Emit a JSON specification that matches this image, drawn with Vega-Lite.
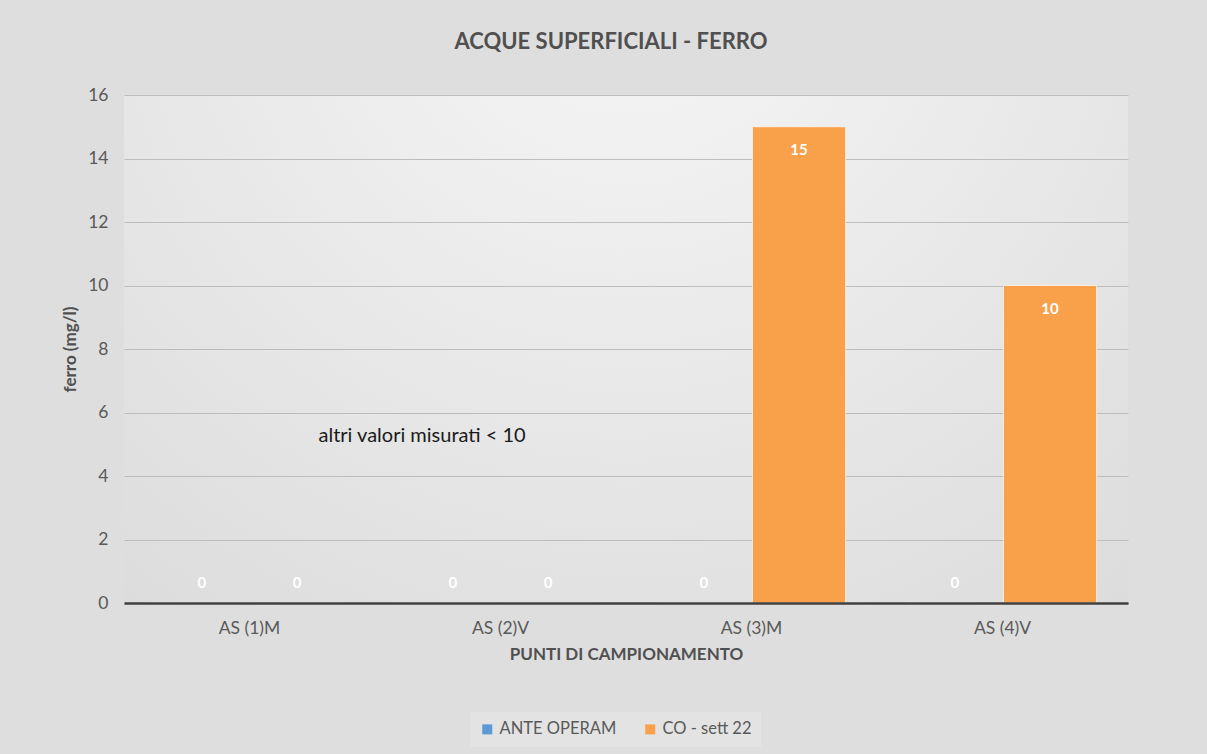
{
  "$schema": "https://vega.github.io/schema/vega-lite/v6.json",
  "width": 1004,
  "height": 508,
  "autosize": {"type": "none"},
  "padding": {"left": 124, "top": 95, "right": 79, "bottom": 151},
  "background": "#dedede",
  "title": {
    "text": "ACQUE SUPERFICIALI - FERRO",
    "font": "Lato",
    "fontSize": 22,
    "fontWeight": "bold",
    "color": "#505050",
    "anchor": "middle",
    "offset": 32,
    "dx": -15
  },
  "config": {
    "view": {
      "stroke": null,
      "fill": {
        "gradient": "radial",
        "x1": 0.5, "y1": 0.1, "x2": 0.5, "y2": 0.1,
        "r1": 0, "r2": 0.95,
        "stops": [
          {"offset": 0, "color": "#f7f7f7"},
          {"offset": 1, "color": "#d8d8d8"}
        ]
      }
    },
    "font": "Lato"
  },
  "data": {
    "values": [
      {"punto": "AS (1)M", "serie": "ANTE OPERAM", "valore": 0},
      {"punto": "AS (1)M", "serie": "CO - sett 22", "valore": 0},
      {"punto": "AS (2)V", "serie": "ANTE OPERAM", "valore": 0},
      {"punto": "AS (2)V", "serie": "CO - sett 22", "valore": 0},
      {"punto": "AS (3)M", "serie": "ANTE OPERAM", "valore": 0},
      {"punto": "AS (3)M", "serie": "CO - sett 22", "valore": 15},
      {"punto": "AS (4)V", "serie": "ANTE OPERAM", "valore": 0},
      {"punto": "AS (4)V", "serie": "CO - sett 22", "valore": 10}
    ]
  },
  "encoding": {
    "x": {
      "field": "punto",
      "type": "nominal",
      "sort": null,
      "scale": {"paddingInner": 0.25, "paddingOuter": 0.125},
      "axis": {
        "title": "PUNTI DI CAMPIONAMENTO",
        "titleFont": "Lato",
        "titleFontSize": 17,
        "titleFontWeight": "bold",
        "titleColor": "#505050",
        "titlePadding": 10,
        "labelFont": "Lato",
        "labelFontSize": 17.5,
        "labelColor": "#595959",
        "labelAngle": 0,
        "labelPadding": 16,
        "ticks": false,
        "domainColor": "#404040",
        "domainWidth": 2.5,
        "grid": false,
        "zindex": 1
      }
    },
    "y": {
      "field": "valore",
      "type": "quantitative",
      "scale": {"domain": [0, 16], "nice": false},
      "axis": {
        "title": "ferro (mg/l)",
        "titleFont": "Lato",
        "titleFontSize": 17,
        "titleFontWeight": "bold",
        "titleColor": "#505050",
        "titlePadding": 8,
        "labelFont": "Lato",
        "labelFontSize": 17.5,
        "labelColor": "#595959",
        "labelPadding": 16,
        "values": [0, 2, 4, 6, 8, 10, 12, 14, 16],
        "ticks": false,
        "domain": false,
        "gridColor": "#bdbdbd",
        "gridWidth": 1
      }
    }
  },
  "layer": [
    {
      "mark": {"type": "bar", "stroke": "#ffffff", "strokeWidth": 1, "strokeOpacity": 0.7},
      "encoding": {
        "xOffset": {"field": "serie", "type": "nominal", "scale": {"paddingInner": 0.02}},
        "color": {
          "field": "serie",
          "type": "nominal",
          "scale": {"domain": ["ANTE OPERAM", "CO - sett 22"], "range": ["#5B9BD5", "#F9A04B"]},
          "legend": {
            "title": null,
            "orient": "none",
            "legendX": 346,
            "legendY": 617,
            "direction": "horizontal",
            "labelFont": "Lato",
            "labelFontSize": 16.5,
            "labelColor": "#595959",
            "symbolType": "square",
            "symbolSize": 100,
            "symbolStrokeWidth": 0,
            "fillColor": "#e3e3e3",
            "padding": 9,
            "columnPadding": 25
          }
        }
      }
    },
    {
      "mark": {
        "type": "text",
        "color": "#ffffff",
        "fontWeight": "bold",
        "fontSize": 15,
        "baseline": "middle",
        "dy": {"expr": "datum.valore > 0 ? 23 : -20"}
      },
      "encoding": {
        "xOffset": {"field": "serie", "type": "nominal"},
        "text": {"field": "valore", "type": "quantitative"}
      }
    },
    {
      "data": {"values": [{"punto": "AS (1)M", "valore": 5.25, "nota": "altri valori misurati  < 10"}]},
      "mark": {"type": "text", "align": "left", "baseline": "middle", "fontSize": 20, "color": "#1a1a1a", "dx": 69},
      "encoding": {
        "text": {"field": "nota", "type": "nominal"}
      }
    }
  ]
}
